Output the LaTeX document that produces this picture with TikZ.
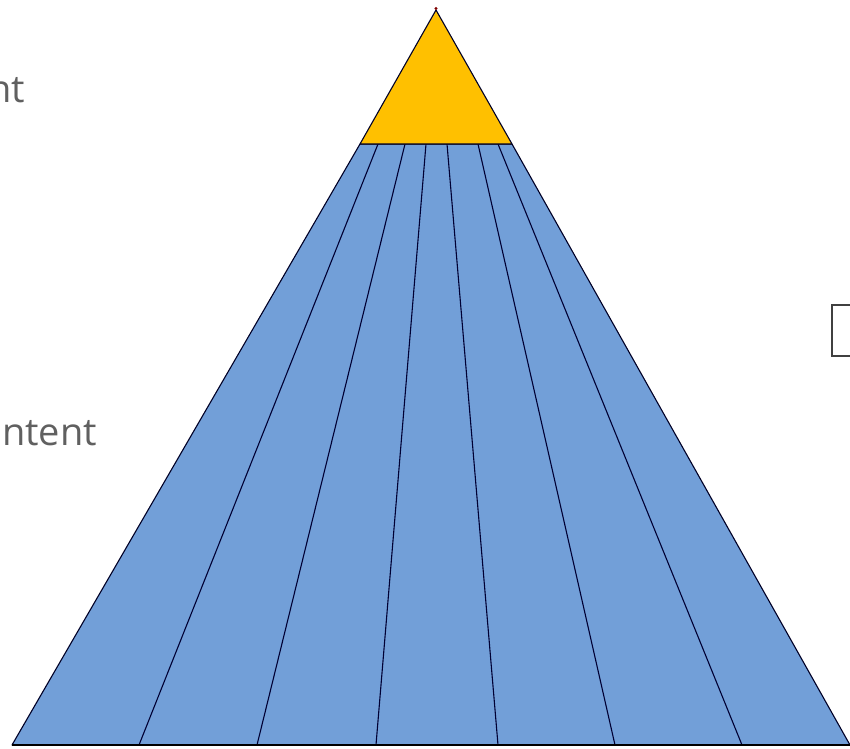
\documentclass[tikz,border=0pt]{standalone}
\usepackage{fontspec}
\setmainfont{Open Sans}
\definecolor{pyrblue}{RGB}{114,159,216}
\definecolor{pyryellow}{RGB}{255,192,0}
\definecolor{txtgray}{RGB}{96,96,96}
\definecolor{boxgray}{RGB}{64,64,64}
\tikzset{
  edge/.style={draw=black!85!blue, line width=1.1pt, line join=round},
  divider/.style={draw=black!80!blue, line width=1.1pt},
  lbl/.style={text=txtgray, font=\fontsize{38}{40}\selectfont, inner sep=0pt, anchor=base east}
}
\begin{document}
\begin{tikzpicture}[x=1pt,y=-1pt]
\useasboundingbox (0,0) rectangle (850,748);
\clip (0,0) rectangle (850,748);
% coordinates
\coordinate (apex) at (436,10);
\coordinate (tl) at (360,144);
\coordinate (tr) at (512,144);
\coordinate (bl) at (12,745);
\coordinate (br) at (850,745);
\foreach \n/\x in {1/378,2/405,3/426,4/447,5/478,6/498} \coordinate (t\n) at (\x,144);
\foreach \n/\x in {1/139,2/257,3/376,4/498,5/615,6/742} \coordinate (b\n) at (\x,745);
% blue trapezoid
\path[fill=pyrblue, edge] (tl) -- (tr) -- (br) -- (bl) -- cycle;
\foreach \n in {1,...,6} \draw[divider] (t\n) -- (b\n);
% yellow triangle
\path[fill=pyryellow, edge] (apex) -- (tr) -- (tl) -- cycle;
\fill[red!50!black] (apex) ++(0,-1.5) circle (1.6);
% bottom line
\draw[line width=2.4pt, black] (bl) -- (br);
% cut-off texts
\node[lbl] (t_nt) at (25,102) {nt};
\node[lbl] (t_ntent) at (97,445) {ntent};
% partial box at right
\draw[boxgray, line width=2pt] (860,305) -- (832,305) -- (832,356) -- (860,356);
\end{tikzpicture}
\end{document}
